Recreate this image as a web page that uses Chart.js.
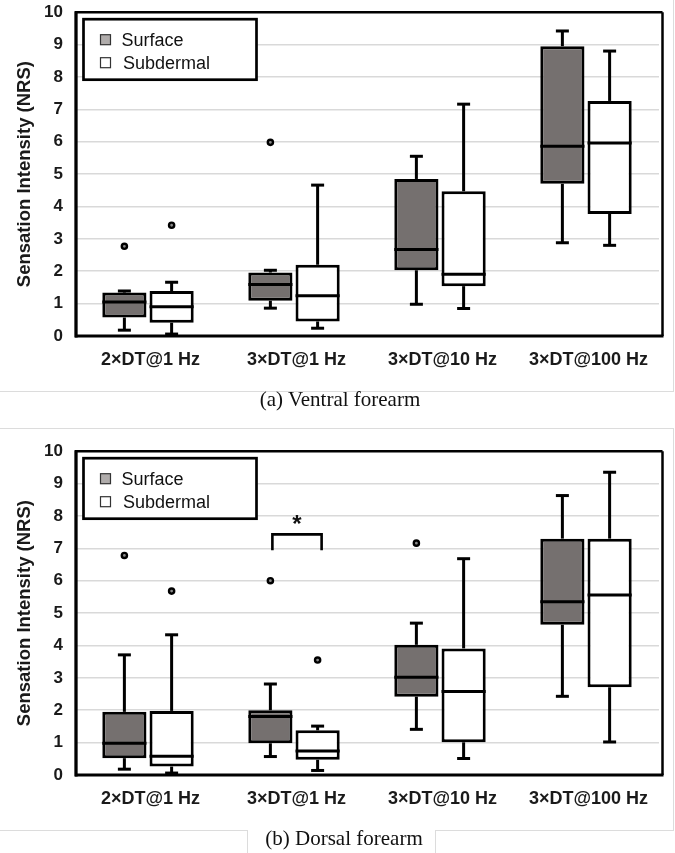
<!DOCTYPE html>
<html>
<head>
    <meta charset="utf-8">
    <style>
        body {
            margin: 0;
            background-color: #ffffff;
            width: 675px;
            height: 853px;
            position: relative;
            overflow: hidden;
        }
        canvas {
            position: absolute;
            left: 0;
        }
        #ventral { top: -10px; }
        #dorsal { top: 429px; }
        .caption {
            position: absolute;
            font-family: "Liberation Serif", "Times New Roman", serif;
            font-size: 21px;
            color: #111;
            white-space: nowrap;
            transform: translate(-50%, -50%);
        }
        /* thin grey frame lines of the figure */
        .frame { position: absolute; background-color: #dcdcdc; }
    </style>
    <script src="https://cdn.jsdelivr.net/npm/chart.js"></script>
</head>
<body>
    <canvas id="ventral" width="675" height="400"></canvas>
    <canvas id="dorsal" width="675" height="400"></canvas>

    <div class="frame" style="left:0; top:391px; width:673px; height:1px;"></div>
    <div class="frame" style="left:673px; top:0; width:1px; height:392px;"></div>
    <div class="frame" style="left:0; top:428px; width:673px; height:1px;"></div>
    <div class="frame" style="left:673px; top:428px; width:1px; height:403px;"></div>
    <div class="frame" style="left:0; top:830px; width:247px; height:1px;"></div>
    <div class="frame" style="left:247px; top:830px; width:1px; height:23px;"></div>
    <div class="frame" style="left:435px; top:830px; width:238px; height:1px;"></div>
    <div class="frame" style="left:435px; top:830px; width:1px; height:23px;"></div>

    <div class="caption" style="left:340px; top:399px;">(a) Ventral forearm</div>
    <div class="caption" style="left:344px; top:838px;">(b) Dorsal forearm</div>

    <script>
        // categories and series
        var categories = ['2×DT@1 Hz', '3×DT@1 Hz', '3×DT@10 Hz', '3×DT@100 Hz'];
        var seriesNames = ['Surface', 'Subdermal'];
        var yTicks = [0, 1, 2, 3, 4, 5, 6, 7, 8, 9, 10];

        // [min, q1, median, q3, max] for each category
        var ventralSurface = [
            [0.18, 0.57, 1.05, 1.34, 1.39],
            [0.86, 1.09, 1.59, 1.96, 2.03],
            [0.98, 2.03, 2.67, 4.85, 5.55],
            [2.88, 4.70, 5.86, 8.95, 9.42]
        ];
        var ventralSubdermal = [
            [0.06, 0.41, 0.90, 1.39, 1.66],
            [0.24, 0.45, 1.24, 2.20, 4.66],
            [0.85, 1.54, 1.91, 4.47, 7.16],
            [2.80, 3.77, 5.96, 7.26, 8.80]
        ];
        var ventralSurfaceOutliers = [2.77, 5.98, null, null];
        var ventralSubdermalOutliers = [3.42, null, null, null];
        var ventralSignificance = [null, null, null, null];

        var dorsalSurface = [
            [0.18, 0.52, 0.98, 1.95, 3.71],
            [0.57, 0.98, 1.81, 2.00, 2.81],
            [1.41, 2.42, 3.02, 4.02, 4.69],
            [2.43, 4.64, 5.35, 7.30, 8.63]
        ];
        var dorsalSubdermal = [
            [0.06, 0.26, 0.58, 1.98, 4.33],
            [0.14, 0.47, 0.74, 1.38, 1.51],
            [0.51, 1.01, 2.58, 3.91, 6.68],
            [1.02, 2.71, 5.56, 7.30, 9.35]
        ];
        var dorsalSurfaceOutliers = [6.78, 6.00, 7.16, null];
        var dorsalSubdermalOutliers = [5.68, 3.55, null, null];
        // bracket top and leg bottom for the significant pair
        var dorsalSignificance = [null, [7.43, 6.94], null, null];

        var boxFill = '#75706f';
        var legendFill = '#b0acab';
        var fontSans = '"Liberation Sans", Arial, sans-serif';

        function line(ctx, x1, y1, x2, y2) {
            ctx.beginPath();
            ctx.moveTo(x1, y1);
            ctx.lineTo(x2, y2);
            ctx.stroke();
        }

        // whiskers, medians, outliers, frame and legend
        function boxPlugin(surface, subdermal, outSurface, outSubdermal, signif) {
            return {
                id: 'boxParts',
                afterDatasetsDraw: function(chart) {
                    var ctx = chart.ctx;
                    var ys = chart.scales.y;
                    var groups = [[surface, outSurface], [subdermal, outSubdermal]];
                    ctx.save();
                    ctx.strokeStyle = '#000';
                    groups.forEach(function(g, di) {
                        var stats = g[0], outs = g[1];
                        chart.getDatasetMeta(di).data.forEach(function(bar, i) {
                            var p = bar.getProps(['x', 'width'], true);
                            var x = p.x, w = p.width;
                            var s = stats[i];
                            var yMin = ys.getPixelForValue(s[0]);
                            var yQ1 = ys.getPixelForValue(s[1]);
                            var yMed = ys.getPixelForValue(s[2]);
                            var yQ3 = ys.getPixelForValue(s[3]);
                            var yMax = ys.getPixelForValue(s[4]);
                            ctx.lineWidth = 3;
                            line(ctx, x, yQ3, x, yMax);
                            line(ctx, x, yQ1, x, yMin);
                            line(ctx, x - 6.5, yMax, x + 6.5, yMax);
                            line(ctx, x - 6.5, yMin, x + 6.5, yMin);
                            line(ctx, x - w / 2, yMed, x + w / 2, yMed);
                            if (outs[i] !== null) {
                                ctx.beginPath();
                                ctx.arc(x, ys.getPixelForValue(outs[i]), 2.6, 0, Math.PI * 2);
                                ctx.fillStyle = '#8a8a8a';
                                ctx.fill();
                                ctx.lineWidth = 2.4;
                                ctx.stroke();
                            }
                        });
                    });
                    // significance bracket
                    signif.forEach(function(sg, i) {
                        if (!sg) return;
                        var x1 = chart.getDatasetMeta(0).data[i].x + 2;
                        var x2 = chart.getDatasetMeta(1).data[i].x + 4;
                        var yTop = ys.getPixelForValue(sg[0]);
                        var yLeg = ys.getPixelForValue(sg[1]);
                        ctx.lineWidth = 2.6;
                        ctx.beginPath();
                        ctx.moveTo(x1, yLeg);
                        ctx.lineTo(x1, yTop);
                        ctx.lineTo(x2, yTop);
                        ctx.lineTo(x2, yLeg);
                        ctx.stroke();
                        ctx.fillStyle = '#111';
                        ctx.font = 'bold 24px ' + fontSans;
                        ctx.textAlign = 'center';
                        ctx.textBaseline = 'alphabetic';
                        ctx.fillText('*', (x1 + x2) / 2, yTop - 2);
                    });
                    ctx.restore();
                },
                afterDraw: function(chart) {
                    var ctx = chart.ctx;
                    var a = chart.chartArea;
                    ctx.save();
                    ctx.strokeStyle = '#000';
                    // plot frame
                    ctx.lineWidth = 2.5;
                    line(ctx, a.left, a.top, a.right + 3.5, a.top);
                    line(ctx, a.right + 3.5, a.top, a.right + 3.5, a.bottom);
                    ctx.lineWidth = 3.3;
                    line(ctx, a.left + 1, a.top - 1, a.left + 1, a.bottom + 1.5);
                    ctx.lineWidth = 3;
                    line(ctx, a.left, a.bottom, a.right + 4.5, a.bottom);

                    // legend
                    var lx = 83.5, ly = a.top + 7;
                    ctx.fillStyle = '#fff';
                    ctx.fillRect(lx, ly, 173, 60.5);
                    ctx.lineWidth = 2.7;
                    ctx.strokeRect(lx, ly, 173, 60.5);
                    var fills = [legendFill, '#ffffff'];
                    var rows = [27.5, 50.5];
                    var textX = [121.5, 123];
                    ctx.font = '18px ' + fontSans;
                    ctx.textBaseline = 'middle';
                    ctx.textAlign = 'left';
                    seriesNames.forEach(function(name, i) {
                        var cy = a.top + rows[i];
                        ctx.fillStyle = fills[i];
                        ctx.fillRect(100.5, cy - 5, 10, 10);
                        ctx.lineWidth = 1.2;
                        ctx.strokeStyle = '#333';
                        ctx.strokeRect(100.5, cy - 5, 10, 10);
                        ctx.fillStyle = '#111';
                        ctx.fillText(name, textX[i], cy + 1);
                    });
                    ctx.restore();
                }
            };
        }

        function makeChart(id, surface, subdermal, outSurface, outSubdermal, signif) {
            var ctx = document.getElementById(id).getContext('2d');
            return new Chart(ctx, {
                type: 'bar',
                data: {
                    labels: categories,
                    datasets: [{
                        label: seriesNames[0],
                        data: surface.map(function(s) { return [s[1], s[3]]; }),
                        backgroundColor: boxFill,
                        borderColor: '#000',
                        borderWidth: 3,
                        borderSkipped: false
                    }, {
                        label: seriesNames[1],
                        data: subdermal.map(function(s) { return [s[1], s[3]]; }),
                        backgroundColor: '#ffffff',
                        borderColor: '#000',
                        borderWidth: 3,
                        borderSkipped: false
                    }]
                },
                options: {
                    responsive: false,
                    animation: false,
                    layout: { padding: { top: 22, right: 16, left: 0, bottom: 0 } },
                    categoryPercentage: 0.647,
                    barPercentage: 0.935,
                    plugins: {
                        legend: { display: false },
                        tooltip: { enabled: false }
                    },
                    scales: {
                        x: {
                            grid: { display: false, drawTicks: false },
                            border: { display: false },
                            ticks: {
                                color: '#1a1a1a',
                                font: { family: fontSans, size: 18, weight: 'bold' },
                                padding: 13,
                                labelOffset: 2.5,
                                maxRotation: 0
                            },
                            afterFit: function(scale) { scale.height = 54; }
                        },
                        y: {
                            min: 0,
                            max: 10,
                            afterBuildTicks: function(scale) {
                                scale.ticks = yTicks.map(function(v) { return { value: v }; });
                            },
                            grid: {
                                drawTicks: false,
                                lineWidth: 1.5,
                                color: function(c) {
                                    var v = c.tick ? c.tick.value : null;
                                    return (v === 0 || v === 10) ? 'rgba(0,0,0,0)' : '#d9d9d9';
                                }
                            },
                            border: { display: false },
                            ticks: {
                                color: '#1a1a1a',
                                font: { family: fontSans, size: 17, weight: 'bold' },
                                padding: 12
                            },
                            title: {
                                display: true,
                                text: 'Sensation Intensity (NRS)',
                                color: '#1a1a1a',
                                font: { family: fontSans, size: 18.5, weight: 'bold' },
                                padding: { top: 14, bottom: 0 }
                            },
                            afterFit: function(scale) { scale.width = 75; }
                        }
                    }
                },
                plugins: [boxPlugin(surface, subdermal, outSurface, outSubdermal, signif)]
            });
        }

        makeChart('ventral', ventralSurface, ventralSubdermal,
            ventralSurfaceOutliers, ventralSubdermalOutliers, ventralSignificance);
        makeChart('dorsal', dorsalSurface, dorsalSubdermal,
            dorsalSurfaceOutliers, dorsalSubdermalOutliers, dorsalSignificance);
    </script>
</body>
</html>
